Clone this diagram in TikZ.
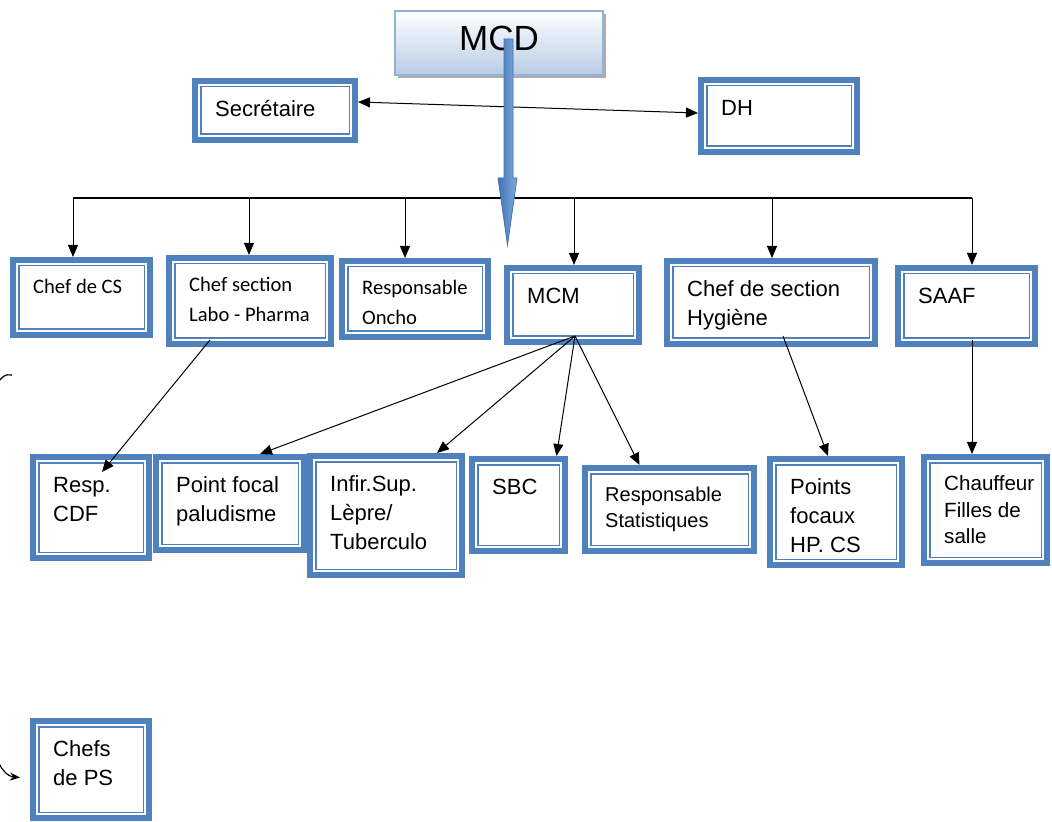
\documentclass[tikz,border=0pt]{standalone}
\usepackage{fontspec}
\setmainfont{Liberation Sans}
\newfontfamily\calibrifont{Carlito}
\usepackage{tikz}
\usetikzlibrary{arrows.meta}
\usetikzlibrary{shadows}
\definecolor{boxblue}{rgb}{0.31,0.506,0.741}
\definecolor{mcdbottom}{rgb}{0.72,0.80,0.90}
\definecolor{mcdline}{rgb}{0.58,0.70,0.84}
\definecolor{arrowdark}{rgb}{0.26,0.45,0.70}
\definecolor{arrowlight}{rgb}{0.50,0.67,0.87}
% text of a box: width, height, lines
\newcommand{\boxtext}[3]{\parbox[c][#2][t]{#1}{\begin{tabular}[t]{@{}l@{}}#3\end{tabular}}}

\begin{document}
\begin{tikzpicture}[x=0.5pt,y=-0.5pt,
    orgbox/.style={draw=boxblue, line width=3.2pt, fill=white, inner xsep=10pt, inner ysep=7.5pt,
        font=\fontsize{11}{14.5}\selectfont,
        path picture={\draw[boxblue, line width=0.7pt]
            ([shift={(2.8pt,2.8pt)}]path picture bounding box.south west) rectangle
            ([shift={(-2.8pt,-2.8pt)}]path picture bounding box.north east);}},
    calbox/.style={orgbox, inner ysep=6pt, font=\calibrifont\fontsize{10.3}{15}\selectfont},
    mcdbox/.style={draw=mcdline, line width=0.8pt, top color=white, bottom color=mcdbottom,
        minimum width=104pt, minimum height=32pt, text depth=5pt,
        font=\fontsize{17.5}{20}\selectfont,
        drop shadow={shadow xshift=1.5pt, shadow yshift=-1.5pt, fill=black!40, opacity=0.8}},
    link/.style={line width=0.5pt, -{Triangle[length=6pt,width=5pt]}}]
    \useasboundingbox (0,0) rectangle (1052,822);
    \clip (0,0) rectangle (1052,822);

    % draw top boxes
    \node[mcdbox] (mcd) at (499,43) {MCD};
    \node[orgbox] (sec) at (275,110.5) {\boxtext{59.8pt}{14.3pt}{Secrétaire}};
    \node[orgbox] (dh) at (779,116) {\boxtext{57.8pt}{20.8pt}{DH}};

    % draw second row
    \node[calbox] (cs) at (81.5,297.5) {\boxtext{48.3pt}{25.3pt}{Chef de CS}};
    \node[calbox] (labo) at (250,301) {\boxtext{60.8pt}{30.8pt}{Chef section\\Labo - Pharma}};
    \node[calbox] (oncho) at (415,299) {\boxtext{52.8pt}{25.8pt}{Responsable\\Oncho}};
    \node[orgbox] (mcm) at (573,305) {\boxtext{45.8pt}{21.8pt}{MCM}};
    \node[orgbox] (hyg) at (771,302.5) {\boxtext{83.8pt}{26.3pt}{Chef de section\\Hygiène}};
    \node[orgbox] (saaf) at (966.5,306) {\boxtext{48.3pt}{22.8pt}{SAAF}};

    % draw third row
    \node[orgbox] (cdf) at (91,507.5) {\boxtext{37.8pt}{35.3pt}{Resp.\\CDF}};
    \node[orgbox] (palu) at (230,503.5) {\boxtext{53.8pt}{31.3pt}{Point focal\\paludisme}};
    \node[orgbox] (lepre) at (386,515.5) {\boxtext{55.8pt}{44.3pt}{Infir.Sup.\\Lèpre/\\Tuberculo}};
    \node[orgbox] (sbc) at (518.5,505) {\boxtext{26.3pt}{30.8pt}{SBC}};
    \node[orgbox, font=\fontsize{10}{13}\selectfont] (stat) at (669.5,509.5) {\boxtext{64.3pt}{26.3pt}{Responsable\\Statistiques}};
    \node[orgbox] (hpcs) at (836,512) {\boxtext{45.8pt}{37.8pt}{Points\\focaux\\HP. CS}};
    \node[orgbox, font=\fontsize{10.3}{13.25}\selectfont] (chauf) at (985.5,510) {\boxtext{41.3pt}{37.8pt}{Chauffeur\\Filles de\\salle}};
    \node[orgbox] (ps) at (91,769.5) {\boxtext{37.8pt}{33.3pt}{Chefs\\de PS}};

    % Secretaire <-> DH
    \draw[line width=0.5pt, {Triangle[length=6pt,width=5pt]}-{Triangle[length=6pt,width=5pt]}]
        ([yshift=4.25pt]sec.east) -- ([yshift=1.5pt]dh.west);

    % horizontal line and drops
    \foreach \x/\n in {73/cs,249/labo,405/oncho,574/mcm,772/hyg,972/saaf}
    {
        \coordinate (bus-\n) at (\x,198);
        \draw[link] (bus-\n) -- (bus-\n |- \n.north);
    }
    \draw[line width=0.6pt] (bus-cs) -- (bus-saaf);

    % big arrow from MCD
    \shade[left color=arrowdark, right color=arrowlight, draw=arrowdark, line width=0.4pt]
        (504,39) -- (513,39) -- (513,178) -- (517,178) -- (507.5,245) -- (498,178) -- (504,178) -- cycle;

    % links to third row
    \draw[link] ([shift={(-20pt,3.5pt)}]labo.south) -- ([shift={(5.5pt,-9pt)}]cdf.north);
    \foreach \n/\s in {palu/15pt,lepre/25.5pt,sbc/19pt,stat/-15pt}
        \draw[link] ([shift={(1pt,4.5pt)}]mcm.south) -- ([xshift=\s]\n.north);
    \draw[link] ([shift={(6pt,5.5pt)}]hyg.south) -- ([xshift=-4pt]hpcs.north);
    \coordinate (saafout) at ([shift={(2.75pt,3.5pt)}]saaf.south);
    \draw[link] (saafout) -- (saafout |- chauf.north);

    % link to chefs de PS
    \coordinate (psin) at (12,375);
    \draw[line width=0.6pt, -{Stealth[length=5pt,width=4pt]}]
        (psin) .. controls (-40,360) and (-40,772) .. ([shift={(-5pt,-4pt)}]ps.west);
\end{tikzpicture}
\end{document}
